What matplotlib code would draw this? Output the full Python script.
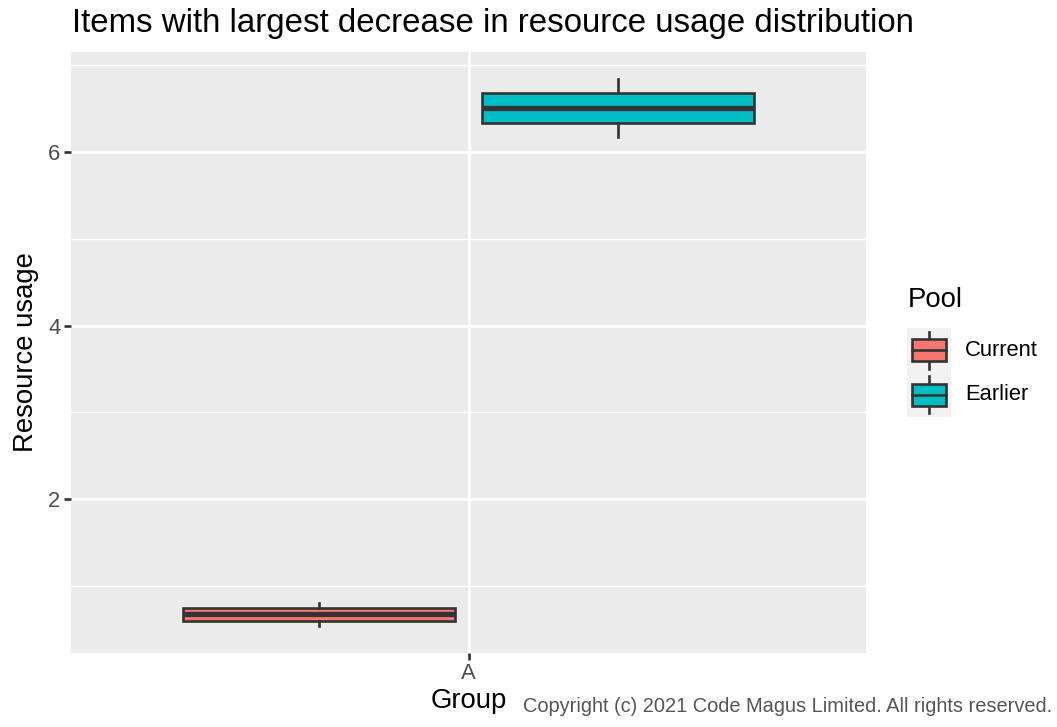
import numpy as np
import matplotlib
matplotlib.use("Agg")
import matplotlib.pyplot as plt
from matplotlib.patches import Rectangle

plt.rcParams['font.family'] = ['Liberation Sans', 'DejaVu Sans']

# Daten
pools = ["Current", "Earlier"]
colors = ["#F8766D", "#00BFC4"]
q1 = [0.597, 6.331]
med = [0.671, 6.504]
q3 = [0.747, 6.677]
wlo = [0.540, 6.171]
whi = [0.798, 6.838]
group = ["A"]

edge = "#333333"
lw = 1.9
fig = plt.figure(figsize=(10.57, 7.27), dpi=100)
ax = fig.add_axes([71 / 1057, (727 - 653) / 727, (866 - 71) / 1057, (653 - 52) / 727])
ax.set_facecolor("#EBEBEB")
for s in ax.spines.values():
    s.set_visible(False)

stats = []
for i, p in enumerate(pools):
    stats.append(dict(label=p, q1=q1[i], med=med[i], q3=q3[i],
                      whislo=wlo[i], whishi=whi[i], fliers=[]))
pos = [-0.226, 0.226]
bp = ax.bxp(stats, positions=pos, widths=0.41, patch_artist=True, showcaps=False,
            boxprops=dict(edgecolor=edge, linewidth=lw),
            medianprops=dict(color=edge, linewidth=2 * lw, solid_capstyle="butt"),
            whiskerprops=dict(color=edge, linewidth=lw), zorder=3)
for b, c in zip(bp["boxes"], colors):
    b.set_facecolor(c)

lo = min(wlo)
hi = max(whi)
pad = (hi - lo) * 0.05
ax.set_xlim(-0.6, 0.6)
ax.set_ylim(lo - pad, hi + pad)
ax.set_xticks([0])
ax.set_xticklabels(group)
ax.set_yticks([2, 4, 6])
ax.set_yticks([1, 3, 5, 7], minor=True)
ax.grid(True, which="major", color="white", linewidth=lw, zorder=0)
ax.grid(True, which="minor", axis="y", color="white", linewidth=lw / 2, zorder=0)
ax.set_axisbelow(True)
ax.tick_params(which="major", length=5, width=lw, color=edge, labelcolor="#4D4D4D",
               labelsize=15.8, pad=2.5)
ax.tick_params(which="minor", length=0)

ax.set_ylabel("Resource usage", fontsize=19.8, labelpad=7)
fig.text(469 / 1057, 1 - 708 / 727, "Group", fontsize=19.8, ha="center", va="baseline")
fig.text(72 / 1057, 1 - 32 / 727, "Items with largest decrease in resource usage distribution",
         fontsize=23.8, ha="left", va="baseline")
fig.text(1052 / 1057, 1 - 712 / 727,
         "Copyright (c) 2021 Code Magus Limited. All rights reserved.",
         fontsize=14.4, color="#555555", ha="right", va="baseline")

# Legende von Hand
fig.text(908 / 1057, 1 - 300 / 727, "Pool", fontsize=19.8, ha="left", va="center")
for i, (p, c) in enumerate(zip(pools, colors)):
    top = 328 + i * 44.5
    lax = fig.add_axes([907 / 1057, 1 - (top + 44.5) / 727, 44 / 1057, 44.5 / 727])
    lax.set_xlim(0, 1)
    lax.set_ylim(0, 1)
    lax.axis("off")
    lax.add_patch(Rectangle((0, 0), 1, 1, color="#F2F2F2", zorder=0))
    lax.plot([0.5, 0.5], [0.08, 0.92], color=edge, linewidth=lw, zorder=1)
    lax.add_patch(Rectangle((0.12, 0.25), 0.76, 0.5, facecolor=c, edgecolor=edge,
                            linewidth=lw, zorder=2))
    lax.plot([0.12, 0.88], [0.5, 0.5], color=edge, linewidth=lw, zorder=3)
    fig.text(965 / 1057, 1 - (top + 22) / 727, p, fontsize=15.8, ha="left", va="center")

fig.savefig("out.png", dpi=100)
